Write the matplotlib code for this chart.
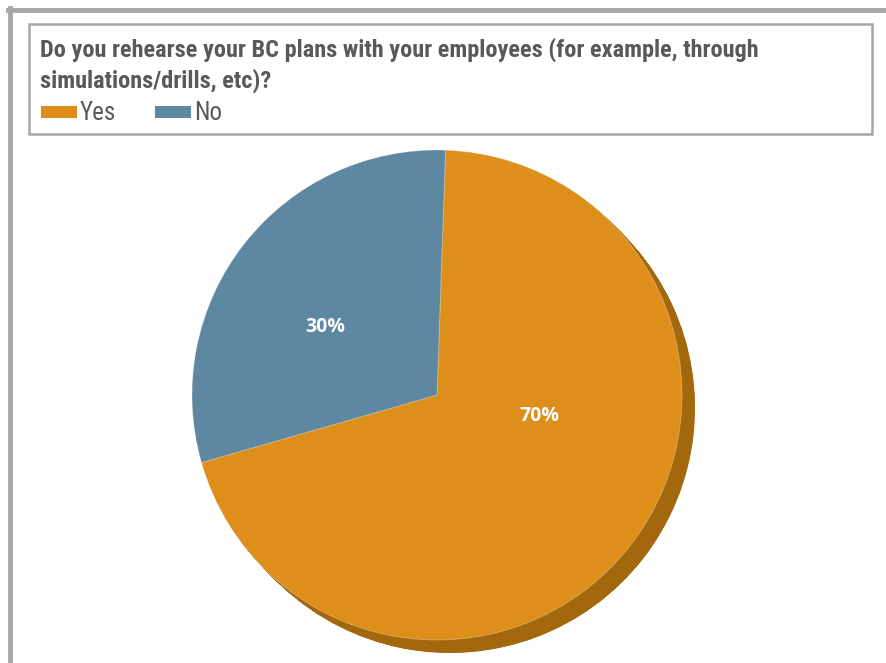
import numpy as np
import matplotlib
matplotlib.use("Agg")
import matplotlib.pyplot as plt
from matplotlib.patches import Rectangle

# Survey answers
categories = ["Yes", "No"]
shares = [70, 30]
colors = ["#DE8E1A", "#5E87A1"]
side_color = "#A3680B"

title_lines = ["Do you rehearse your BC plans with your employees (for example, through",
               "simulations/drills, etc)?"]

W, H = 886, 663
fig = plt.figure(figsize=(W / 100, H / 100), dpi=100)
ax = fig.add_axes([0, 0, 1, 1])

fam = ["Roboto Condensed", "DejaVu Sans"]

cx, cy, r = 437, H - 395, 245
start = 88
depth = 13

# extruded side of the pie (drawn as stacked offset copies)
for k in np.linspace(depth, 0.5, 40):
    ax.pie(shares, colors=[side_color] * len(shares), startangle=start,
           counterclock=False, center=(cx + k, cy - k), radius=r,
           wedgeprops=dict(linewidth=0), frame=True)

# top face
wedges, _ = ax.pie(shares, colors=colors, startangle=start, counterclock=False,
                   center=(cx, cy), radius=r,
                   wedgeprops=dict(linewidth=0.6, edgecolor=(1, 1, 1, 0.35)),
                   frame=True)

# value labels
label_pos = [(540, 416), (325, 327)]
for v, (lx, ly) in zip(shares, label_pos):
    ax.text(lx, H - ly, f"{v}%", color="white", fontsize=14, fontweight="bold",
            ha="center", va="center", family=["Open Sans", "DejaVu Sans"])

ax.set_xlim(0, W)
ax.set_ylim(0, H)
ax.set_aspect("auto")
ax.axis("off")

# outer frame (top and left edges)
fig.add_artist(plt.Line2D([8 / W, 1], [1 - 10 / H, 1 - 10 / H], color="#A6A6A6",
                          lw=3.5, transform=fig.transFigure))
fig.add_artist(plt.Line2D([10 / W, 10 / W], [0, 1 - 8 / H], color="#A6A6A6",
                          lw=3.5, transform=fig.transFigure))

# title box
fig.add_artist(Rectangle((29 / W, 1 - 134 / H), (872 - 29) / W, (134 - 24) / H,
                         transform=fig.transFigure, fill=False,
                         edgecolor="#A6A6A6", lw=1.8))
fig.text(40 / W, 1 - 50 / H, title_lines[0], fontsize=17.5, fontweight="bold",
         color="#595959", va="center", ha="left", family=fam)
fig.text(40 / W, 1 - 81 / H, title_lines[1], fontsize=17.5, fontweight="bold",
         color="#595959", va="center", ha="left", family=fam)

# legend
leg_x = [41, 155]
for name, c, lx in zip(categories, colors, leg_x):
    fig.add_artist(Rectangle((lx / W, 1 - 118 / H), 36 / W, 12 / H,
                             transform=fig.transFigure, facecolor=c, edgecolor="none"))
    fig.text((lx + 39) / W, 1 - 113 / H, name, fontsize=18, color="#595959",
             va="center", ha="left", family=fam)

fig.savefig("out.png", dpi=100, facecolor="white")
